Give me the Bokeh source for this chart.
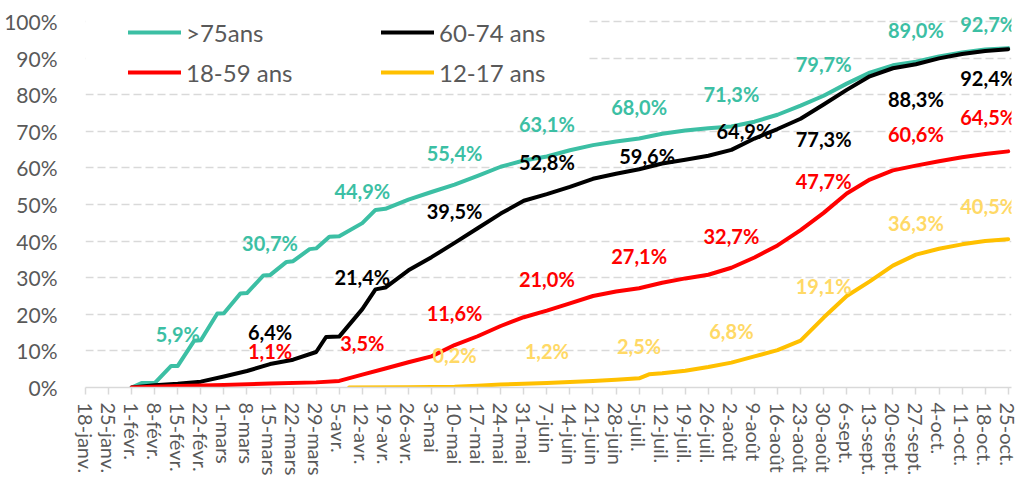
import pandas as pd
from bokeh.plotting import figure
from bokeh.models import (ColumnDataSource, LabelSet, Legend, LegendItem,
                          FixedTicker, Range1d, BoxAnnotation)
from bokeh.core.properties import value
from bokeh.embed import file_html
from bokeh.resources import INLINE

START = "2021-01-18"

tick_labels = ["18-janv.", "25-janv.", "1-févr.", "8-févr.", "15-févr.", "22-févr.",
               "1-mars", "8-mars", "15-mars", "22-mars", "29-mars", "5-avr.", "12-avr.",
               "19-avr.", "26-avr.", "3-mai", "10-mai", "17-mai", "24-mai", "31-mai",
               "7-juin", "14-juin", "21-juin", "28-juin", "5-juil.", "12-juil.", "19-juil.",
               "26-juil.", "2-août", "9-août", "16-août", "23-août", "30-août", "6-sept.",
               "13-sept.", "20-sept.", "27-sept.", "4-oct.", "11-oct.", "18-oct.", "25-oct."]
y_ticks = [0, 10, 20, 30, 40, 50, 60, 70, 80, 90, 100]

series_names = [">75ans", "60-74 ans", "18-59 ans", "12-17 ans"]

teal_dates = ["2021-02-01", "2021-02-04", "2021-02-08", "2021-02-13", "2021-02-15", "2021-02-20",
              "2021-02-22", "2021-02-27", "2021-03-01", "2021-03-06", "2021-03-08", "2021-03-13",
              "2021-03-15", "2021-03-20", "2021-03-22", "2021-03-27", "2021-03-29", "2021-04-02",
              "2021-04-05", "2021-04-12", "2021-04-16", "2021-04-19", "2021-04-26", "2021-05-03",
              "2021-05-10", "2021-05-17", "2021-05-24", "2021-05-31", "2021-06-07", "2021-06-14",
              "2021-06-21", "2021-06-28", "2021-07-05", "2021-07-12", "2021-07-19", "2021-07-26",
              "2021-08-02", "2021-08-09", "2021-08-16", "2021-08-23", "2021-08-30", "2021-09-06",
              "2021-09-13", "2021-09-20", "2021-09-27", "2021-10-04", "2021-10-11", "2021-10-18",
              "2021-10-25"]
teal_vals = [0.0, 1.2, 1.2, 5.9, 5.9, 12.8, 12.9, 20.2, 20.3, 25.7, 25.8, 30.6, 30.7, 34.3, 34.5,
             37.8, 38.0, 41.2, 41.3, 44.9, 48.5, 48.8, 51.3, 53.4, 55.4, 57.8, 60.3, 62.0, 63.1,
             64.8, 66.2, 67.2, 68.0, 69.3, 70.2, 70.8, 71.3, 72.6, 74.5, 77.0, 79.7, 83.0, 86.0,
             88.0, 89.0, 90.4, 91.5, 92.3, 92.7]

black_dates = ["2021-02-01", "2021-02-08", "2021-02-15", "2021-02-22", "2021-03-01", "2021-03-08",
               "2021-03-15", "2021-03-22", "2021-03-29", "2021-04-01", "2021-04-05", "2021-04-12",
               "2021-04-16", "2021-04-19", "2021-04-26", "2021-05-03", "2021-05-10", "2021-05-17",
               "2021-05-24", "2021-05-31", "2021-06-07", "2021-06-14", "2021-06-21", "2021-06-28",
               "2021-07-05", "2021-07-12", "2021-07-19", "2021-07-26", "2021-08-02", "2021-08-09",
               "2021-08-16", "2021-08-23", "2021-08-30", "2021-09-06", "2021-09-13", "2021-09-20",
               "2021-09-27", "2021-10-04", "2021-10-11", "2021-10-18", "2021-10-25"]
black_vals = [0.0, 0.6, 1.0, 1.6, 3.0, 4.5, 6.4, 7.6, 9.7, 13.8, 13.9, 21.4, 26.8, 27.3, 32.0,
              35.6, 39.5, 43.5, 47.5, 51.0, 52.8, 54.8, 57.0, 58.4, 59.6, 61.2, 62.2, 63.3, 64.9,
              68.0, 70.6, 73.4, 77.3, 81.3, 85.0, 87.2, 88.3, 89.9, 91.1, 91.9, 92.4]

red_dates = ["2021-02-01", "2021-02-15", "2021-03-01", "2021-03-15", "2021-03-29", "2021-04-05",
             "2021-04-12", "2021-04-19", "2021-04-26", "2021-05-03", "2021-05-10", "2021-05-17",
             "2021-05-24", "2021-05-31", "2021-06-07", "2021-06-14", "2021-06-21", "2021-06-28",
             "2021-07-05", "2021-07-12", "2021-07-19", "2021-07-26", "2021-08-02", "2021-08-09",
             "2021-08-16", "2021-08-23", "2021-08-30", "2021-09-06", "2021-09-13", "2021-09-20",
             "2021-09-27", "2021-10-04", "2021-10-11", "2021-10-18", "2021-10-25"]
red_vals = [0.0, 0.4, 0.7, 1.1, 1.4, 1.8, 3.5, 5.2, 6.9, 8.5, 11.6, 14.0, 16.8, 19.2, 21.0, 23.0,
            25.0, 26.2, 27.1, 28.6, 29.8, 30.8, 32.7, 35.5, 38.8, 43.0, 47.7, 53.0, 56.8, 59.3,
            60.6, 61.8, 62.9, 63.8, 64.5]

yellow_dates = ["2021-04-08", "2021-04-26", "2021-05-10", "2021-05-17", "2021-05-24", "2021-05-31",
                "2021-06-07", "2021-06-14", "2021-06-21", "2021-06-28", "2021-07-05", "2021-07-08",
                "2021-07-12", "2021-07-19", "2021-07-26", "2021-08-02", "2021-08-09", "2021-08-16",
                "2021-08-23", "2021-08-30", "2021-09-06", "2021-09-13", "2021-09-20", "2021-09-27",
                "2021-10-04", "2021-10-11", "2021-10-18", "2021-10-25"]
yellow_vals = [0.0, 0.1, 0.2, 0.5, 0.8, 1.0, 1.2, 1.5, 1.8, 2.1, 2.5, 3.6, 3.9, 4.6, 5.6, 6.8,
               8.5, 10.2, 12.8, 19.1, 25.0, 29.0, 33.3, 36.3, 37.9, 39.1, 40.0, 40.5]

# dates that carry a data label
teal_label_dates = ["2021-02-15", "2021-03-15", "2021-04-12", "2021-05-10", "2021-06-07",
                    "2021-07-05", "2021-08-02", "2021-08-30", "2021-09-27", "2021-10-25"]
black_label_dates = ["2021-03-15", "2021-04-12", "2021-05-10", "2021-06-07", "2021-07-05",
                     "2021-08-02", "2021-08-30", "2021-09-27", "2021-10-25"]
red_label_dates = ["2021-03-15", "2021-04-12", "2021-05-10", "2021-06-07", "2021-07-05",
                   "2021-08-02", "2021-08-30", "2021-09-27", "2021-10-25"]
yellow_label_dates = ["2021-05-10", "2021-06-07", "2021-07-05", "2021-08-02", "2021-08-30",
                      "2021-09-27", "2021-10-25"]

line_colors = ["#3CBFA4", "#000000", "#FF0000", "#FFC000"]
label_colors = ["#3CBFA4", "#000000", "#FF0000", "#FFD966"]

# label placement styling (pixels): default above the point
label_offsets = {
    (0, "2021-10-25"): (-20, 24),
    (1, "2021-07-05"): (8, 13),
    (1, "2021-08-02"): (13, 19),
    (1, "2021-08-30"): (0, -34),
    (1, "2021-09-27"): (0, -35),
    (1, "2021-10-25"): (-20, -29),
    (2, "2021-10-25"): (-20, 34),
    (3, "2021-10-25"): (-20, 33),
}

FONT = "Lato"
GREY = "#595959"
start = pd.Timestamp(START)


def to_days(ds):
    return [(pd.Timestamp(d) - start).days for d in ds]


W, H = 1032, 478
TOP = 8                      # frame top (px); 100% sits at y = 21 px
PX_PER_PCT = 3.69
p = figure(width=W, height=H, output_backend="svg", toolbar_location=None,
           x_range=Range1d(0, 281), y_range=Range1d(0, 100 + (21 - TOP) / PX_PER_PCT),
           min_border_left=85, min_border_right=W - 1011, min_border_top=TOP,
           min_border_bottom=H - 390)
p.outline_line_color = None
p.background_fill_color = "white"
p.border_fill_color = "white"

# axes
p.xaxis.ticker = FixedTicker(ticks=[7 * i for i in range(len(tick_labels))])
p.xaxis.major_label_overrides = {7 * i: t for i, t in enumerate(tick_labels)}
p.xaxis.major_label_orientation = "vertical"
p.xaxis.major_label_text_font = FONT
p.xaxis.major_label_text_font_size = "20px"
p.xaxis.major_label_text_color = GREY
p.xaxis.axis_line_color = "#D9D9D9"
p.xaxis.axis_line_width = 1.5
p.xaxis.major_tick_line_color = "#D9D9D9"
p.xaxis.major_tick_line_width = 1.5
p.xaxis.major_tick_out = 7
p.xaxis.major_tick_in = 0
p.xaxis.minor_tick_line_color = None
p.xaxis.major_label_standoff = 8

p.yaxis.ticker = FixedTicker(ticks=y_ticks)
p.yaxis.major_label_overrides = {t: f"{t}%" for t in y_ticks}
p.yaxis.major_label_text_font = FONT
p.yaxis.major_label_text_font_size = "21px"
p.yaxis.major_label_text_color = GREY
p.yaxis.axis_line_color = None
p.yaxis.major_tick_line_color = None
p.yaxis.minor_tick_line_color = None
p.yaxis.major_label_standoff = 22

p.xgrid.grid_line_color = None
p.ygrid.ticker = FixedTicker(ticks=y_ticks[1:])
p.ygrid.grid_line_color = "#D9D9D9"
p.ygrid.grid_line_width = 1.5
p.ygrid.grid_line_dash = "8 4"

# white area behind the legend (hides the gridlines there)
p.add_layout(BoxAnnotation(left=0, right=152, bottom=81.8, top=110, fill_color="white",
                           fill_alpha=1.0, line_color=None, level="underlay"))

all_dates = [teal_dates, black_dates, red_dates, yellow_dates]
all_vals = [teal_vals, black_vals, red_vals, yellow_vals]
all_label_dates = [teal_label_dates, black_label_dates, red_label_dates, yellow_label_dates]

renderers = {}
for i in [0, 1, 3, 2]:
    src = ColumnDataSource(dict(x=to_days(all_dates[i]), y=all_vals[i]))
    renderers[i] = p.line("x", "y", source=src, line_color=line_colors[i], line_width=4,
                          line_join="round", line_cap="round")

# data labels
lx, ly, lt, lc, xo, yo = [], [], [], [], [], []
for i in range(4):
    lookup = dict(zip(all_dates[i], all_vals[i]))
    for d in all_label_dates[i]:
        v = lookup[d]
        lx.append((pd.Timestamp(d) - start).days)
        ly.append(v)
        lt.append(f"{v:.1f}%".replace(".", ","))
        lc.append(label_colors[i])
        ox, oy = label_offsets.get((i, d), (0, 32))
        xo.append(ox)
        yo.append(oy)
lab_src = ColumnDataSource(dict(x=lx, y=ly, text=lt, color=lc, xo=xo, yo=yo))
labels = LabelSet(x="x", y="y", text="text", source=lab_src, x_offset="xo", y_offset="yo",
                  text_color="color", text_font=value(FONT), text_font_style="bold",
                  text_font_size="20px", text_align="center", text_baseline="middle")
p.add_layout(labels)

# legend: two columns
common = dict(label_text_font=FONT, label_text_font_size="24px", label_text_color=GREY,
              glyph_width=53, glyph_height=30, label_height=30, label_standoff=5,
              spacing=10, padding=4, margin=0, border_line_color=None,
              background_fill_color="white", background_fill_alpha=1.0)
leg1 = Legend(items=[LegendItem(label=value(series_names[0]), renderers=[renderers[0]]),
                     LegendItem(label=value(series_names[2]), renderers=[renderers[2]])],
              location=(43, 300), label_width=185, **common)
leg2 = Legend(items=[LegendItem(label=value(series_names[1]), renderers=[renderers[1]]),
                     LegendItem(label=value(series_names[3]), renderers=[renderers[3]])],
              location=(296, 300), label_width=140, **common)
p.add_layout(leg1)
p.add_layout(leg2)

open("out.html", "w").write(file_html(p, INLINE))
